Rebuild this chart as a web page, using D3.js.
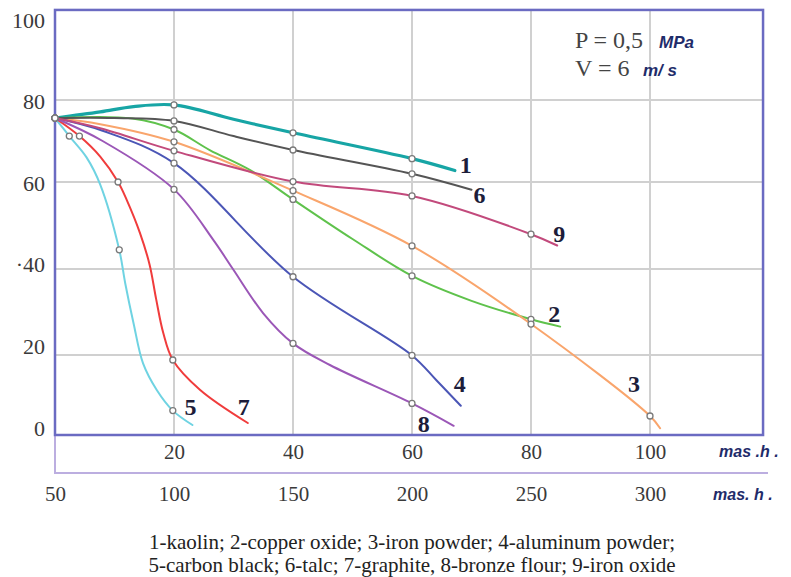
<!DOCTYPE html>
<html>
<head>
<meta charset="utf-8">
<script src="https://cdn.jsdelivr.net/npm/d3@7"></script>
<style>
  body { margin: 0; background: #fff; }
</style>
</head>
<body>
<svg id="chart" width="791" height="577"></svg>
<script>

// tick values
var topTicks = [20, 40, 60, 80, 100];
var bottomTicks = [50, 100, 150, 200, 250, 300];
var yTicks = [0, 20, 40, 60, 80, 100];

// curves: [mas.h, value, measured point?]
var kaolin = [[0,75.6,1],[7.6,77.1,0],[13.2,78.4,0],[20,78.8,1],[30,75.3,0],[40,72,1],[60,65.7,1],[67.2,62.8,0]];
var copperOxide = [[0,75.6,1],[13,75.5,0],[20,72.8,1],[26,67.8,0],[32.8,62.9,0],[40,56,1],[50,46.9,0],[60,38.4,1],[70,32.6,0],[80,28.3,1],[84.9,26.6,0]];
var ironPowder = [[0,75.6,1],[7.6,74.1,0],[20,69.8,1],[40,58,1],[60,45.3,1],[80,27.2,1],[100,4.75,1],[101.7,1.7,0]];
var aluminumPowder = [[0,75.6,1],[8,72.5,0],[20,64.6,1],[40,38.2,1],[60,19.9,1],[64.1,13.7,0],[68.2,7.3,0]];
var carbonBlack = [[0,75.6,1],[2.4,71.2,1],[5.3,66,0],[7.6,59.4,0],[10.8,44.4,1],[11.8,36.7,0],[13.2,27.4,0],[14.8,17.9,0],[17.1,11.25,0],[19.8,6.1,1],[23.1,2.5,0]];
var talc = [[0,75.6,1],[10,75.6,0],[20,74.9,1],[30,71.2,0],[40,67.8,1],[60,62,1],[70,58.2,0]];
var graphite = [[0,75.6,1],[4.1,71.2,1],[7.6,66.2,0],[10.6,60,1],[12.05,55.9,0],[14.3,48.2,0],[15.9,41,0],[17,33,0],[18.2,25.1,0],[19.8,18.75,1],[24.4,11.25,0],[32.4,3,0]];
var bronzeFlour = [[0,75.6,1],[8,70,0],[20,58.3,1],[26.6,46.7,0],[29.9,40,0],[35,29.7,0],[40,22.7,1],[46.2,17.5,0],[60,7.9,1],[67,2.3,0]];
var ironOxide = [[0,75.6,1],[7.6,73.1,0],[20,67.6,1],[40,60.1,1],[60,56.8,1],[80,48,1],[84.4,45.4,0]];

var seriesLabels = ["1", "2", "3", "4", "5", "6", "7", "8", "9"];
var seriesData = [kaolin, copperOxide, ironPowder, aluminumPowder, carbonBlack, talc, graphite, bronzeFlour, ironOxide];
var seriesColors = ["#17a5a5", "#5fc24c", "#f9a56c", "#4b56b6", "#6fd3e2", "#555555", "#f03c3c", "#9b57b7", "#c24a7c"];
var seriesWidths = [3.2, 2, 2, 2, 2, 2, 2, 2, 2];
var labelOffsets = [[5,-6],[-12,-13],[-32,-45],[-7,-22],[-8,-18],[2,5],[-10,-16],[-36,-2],[-4,-12]];

var caption = [
  "1-kaolin; 2-copper oxide; 3-iron powder; 4-aluminum powder;",
  "5-carbon black; 6-talc; 7-graphite, 8-bronze flour; 9-iron oxide"
];

var svg = d3.select("#chart");
var serif = "'Liberation Serif', 'Times New Roman', serif";
var sans = "'Liberation Sans', Arial, sans-serif";

var x = d3.scaleLinear().domain([0, 100]).range([55, 650]);
var xBottom = d3.scaleLinear().domain([50, 300]).range([x(0), x(100)]);
var y = d3.scaleLinear().domain([0, 20, 40, 60, 80, 100]).range([435, 355, 269, 182, 100, 17]);
// the printed numbers sit on an even spacing of their own
var yLabel = d3.scaleLinear().domain([0, 100]).range([428, 20]);
var xMax = 119, yMax = 101.7;

// grid
svg.append("g").selectAll("line.v")
  .data(topTicks)
  .enter().append("line")
    .attr("x1", function(d){ return x(d); })
    .attr("x2", function(d){ return x(d); })
    .attr("y1", y(0)).attr("y2", y(yMax))
    .attr("stroke", "#d0d0d0").attr("stroke-width", 2);

svg.append("g").selectAll("line.h")
  .data([20, 40, 60, 80])
  .enter().append("line")
    .attr("x1", x(0)).attr("x2", x(xMax))
    .attr("y1", function(d){ return y(d); })
    .attr("y2", function(d){ return y(d); })
    .attr("stroke", "#d0d0d0").attr("stroke-width", 2);

// lower band for second scale
svg.append("path")
  .attr("d", "M" + x(0) + "," + y(0) + "V473H768")
  .attr("fill", "none")
  .attr("stroke", "#bcaee0")
  .attr("stroke-width", 2);

// frame
svg.append("rect")
  .attr("x", x(0)).attr("y", y(yMax))
  .attr("width", x(xMax) - x(0))
  .attr("height", y(0) - y(yMax))
  .attr("fill", "none")
  .attr("stroke", "#6b6bc2")
  .attr("stroke-width", 2.5);

// axes
var topAxis = svg.append("g")
  .attr("transform", "translate(0," + y(0) + ")")
  .call(d3.axisBottom(x).tickValues(topTicks).tickSize(0).tickPadding(9));
var botAxis = svg.append("g")
  .attr("transform", "translate(0,473)")
  .call(d3.axisBottom(xBottom).tickValues(bottomTicks).tickSize(0).tickPadding(13));
var leftAxis = svg.append("g")
  .attr("transform", "translate(" + (x(0) - 10) + ",0)")
  .call(d3.axisLeft(y).tickValues(yTicks).tickSize(0).tickPadding(0)
    .tickFormat(function(d){ return d === 40 ? "\u00b740" : d; }));

[topAxis, botAxis, leftAxis].forEach(function(a){
  a.select(".domain").remove();
  a.selectAll("text")
    .attr("font-family", serif)
    .attr("font-size", 21)
    .attr("fill", "#3a3a3a");
});
leftAxis.selectAll("text")
  .attr("font-size", 22)
  .attr("y", function(d){ return yLabel(d) - y(d); });

// unit labels
svg.append("text").attr("x", 719).attr("y", 457)
  .attr("font-family", sans).attr("font-style", "italic").attr("font-weight", "bold")
  .attr("font-size", 16).attr("fill", "#1f2c6a")
  .text("mas .h .");
svg.append("text").attr("x", 713).attr("y", 500)
  .attr("font-family", sans).attr("font-style", "italic").attr("font-weight", "bold")
  .attr("font-size", 16).attr("fill", "#1f2c6a")
  .text("mas. h .");

// curves
var line = d3.line()
  .x(function(d){ return x(d[0]); })
  .y(function(d){ return y(d[1]); })
  .curve(d3.curveCatmullRom.alpha(0.5));

seriesData.forEach(function(data, i){
  svg.append("path")
    .datum(data)
    .attr("d", line)
    .attr("fill", "none")
    .attr("stroke", seriesColors[i])
    .attr("stroke-width", seriesWidths[i])
    .attr("stroke-linecap", "round");
});

seriesData.forEach(function(data, i){
  svg.append("g").selectAll("circle")
    .data(data.filter(function(d){ return d[2]; }))
    .enter().append("circle")
      .attr("cx", function(d){ return x(d[0]); })
      .attr("cy", function(d){ return y(d[1]); })
      .attr("r", 3)
      .attr("fill", "#fff")
      .attr("stroke", "#7a7a7a")
      .attr("stroke-width", 1.3);
});

// curve numbers
seriesData.forEach(function(data, i){
  var last = data[data.length - 1];
  svg.append("text")
    .attr("x", x(last[0]) + labelOffsets[i][0])
    .attr("y", y(last[1]) + labelOffsets[i][1])
    .attr("dy", "0.35em")
    .attr("font-family", serif)
    .attr("font-weight", "bold")
    .attr("font-size", 24)
    .attr("fill", "#1d1d3a")
    .text(seriesLabels[i]);
});

// conditions
var cond = svg.append("g").attr("font-size", 24).attr("fill", "#444");
cond.append("text").attr("x", 575).attr("y", 48).attr("font-family", serif).text("P = 0,5");
cond.append("text").attr("x", 659).attr("y", 48)
  .attr("font-family", sans).attr("font-style", "italic").attr("font-weight", "bold")
  .attr("font-size", 17).attr("fill", "#1f2c6a").text("MPa");
cond.append("text").attr("x", 575).attr("y", 76).attr("font-family", serif).text("V = 6");
cond.append("text").attr("x", 643).attr("y", 76)
  .attr("font-family", sans).attr("font-style", "italic").attr("font-weight", "bold")
  .attr("font-size", 17).attr("fill", "#1f2c6a").text("m/ s");

// caption
svg.append("g").selectAll("text")
  .data(caption)
  .enter().append("text")
    .attr("x", 412)
    .attr("y", function(d, i){ return 549 + i * 23; })
    .attr("text-anchor", "middle")
    .attr("font-family", serif)
    .attr("font-size", 21)
    .attr("fill", "#222")
    .text(function(d){ return d; });

</script>
</body>
</html>
